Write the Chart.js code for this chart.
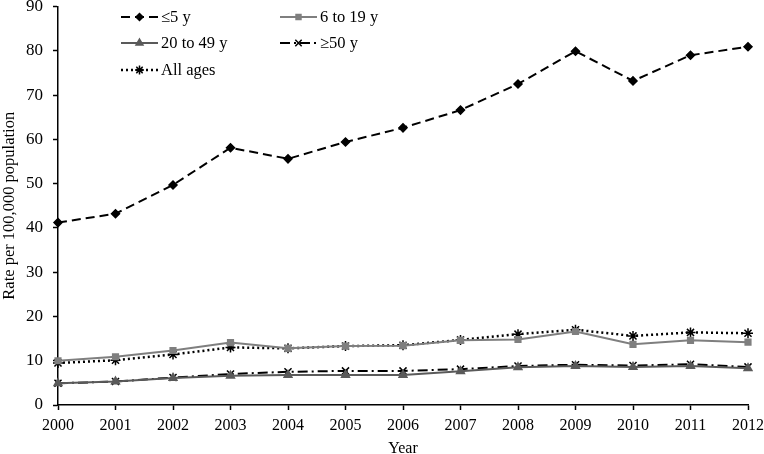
<!DOCTYPE html>
<html>
<head>
<meta charset="utf-8">
<script src="https://cdn.jsdelivr.net/npm/chart.js@4/dist/chart.umd.min.js"></script>
<style>
  html, body { margin: 0; padding: 0; background: #fff; }
  #wrap { width: 764px; height: 454px; position: relative; }
</style>
</head>
<body>
<div id="wrap"><canvas id="grafica"></canvas></div>
<script>
const years = ["2000", "2001", "2002", "2003", "2004", "2005", "2006", "2007", "2008", "2009", "2010", "2011", "2012"];
const under5 = [41.2, 43.2, 49.7, 58.1, 55.6, 59.4, 62.6, 66.6, 72.5, 79.9, 73.2, 79.0, 80.9];
const age6to19 = [10.0, 10.9, 12.3, 14.1, 12.8, 13.3, 13.4, 14.6, 14.8, 16.6, 13.7, 14.6, 14.2];
const age20to49 = [4.9, 5.3, 6.1, 6.6, 6.8, 6.8, 6.8, 7.6, 8.5, 8.8, 8.6, 8.8, 8.3];
const age50plus = [4.9, 5.3, 6.2, 7.0, 7.5, 7.7, 7.7, 8.1, 8.8, 9.1, 8.9, 9.2, 8.6];
const allAges = [9.5, 10.1, 11.4, 13.0, 12.8, 13.3, 13.5, 14.7, 16.0, 17.0, 15.6, 16.4, 16.2];

const FONT = "'Liberation Serif', 'Times New Roman', serif";

// Leyenda en dos columnas dentro del área del gráfico
const legendSlots = [
  { x: 121, y: 17 },
  { x: 280, y: 17 },
  { x: 121, y: 43 },
  { x: 280, y: 43 },
  { x: 121, y: 70 },
];

const gridLegend = {
  id: "gridLegend",
  afterDraw(chart) {
    const ctx = chart.ctx;
    chart.data.datasets.forEach((ds, i) => {
      const slot = legendSlots[i];
      if (!slot) return;
      const len = 37;
      ctx.save();
      ctx.strokeStyle = ds.borderColor;
      ctx.lineWidth = ds.borderWidth;
      ctx.setLineDash(ds.borderDash || []);
      ctx.beginPath();
      ctx.moveTo(slot.x, slot.y);
      ctx.lineTo(slot.x + len, slot.y);
      ctx.stroke();
      ctx.setLineDash([]);
      ctx.fillStyle = ds.pointBackgroundColor;
      ctx.strokeStyle = ds.pointBorderColor;
      ctx.lineWidth = 1.5;
      Chart.helpers.drawPoint(ctx, {
        pointStyle: ds.pointStyle,
        radius: ds.pointRadius - 0.5,
        rotation: 0,
        borderWidth: 1.5,
      }, slot.x + len / 2, slot.y);
      ctx.font = `16.5px ${FONT}`;
      ctx.textBaseline = "middle";
      ctx.fillStyle = "#000";
      ctx.fillText(ds.label, slot.x + len + 3, slot.y + 1);
      ctx.restore();
    });
  },
};

function serie(label, data, color, dash, style, radius, width) {
  return {
    label,
    data,
    borderColor: color,
    backgroundColor: color,
    pointBackgroundColor: color,
    pointBorderColor: color,
    borderWidth: width,
    borderDash: dash,
    pointStyle: style,
    pointRadius: radius,
    pointBorderWidth: 1.5,
    tension: 0,
    fill: false,
  };
}

const datasets = [
  serie("≤5 y", under5, "#000000", [9, 5], "rectRot", 4, 2),
  serie("6 to 19 y", age6to19, "#7f7f7f", [], "rect", 4, 2),
  serie("20 to 49 y", age20to49, "#5a5a5a", [], "triangle", 4.5, 2),
  serie("≥50 y", age50plus, "#000000", [10, 4, 2, 4], "crossRot", 5, 2),
  serie("All ages", allAges, "#000000", [2, 3], "star", 5, 2.5),
];

new Chart(document.getElementById("grafica"), {
  type: "line",
  data: { labels: years, datasets },
  plugins: [gridLegend],
  options: {
    responsive: true,
    maintainAspectRatio: false,
    animation: false,
    layout: { padding: { top: 5, right: 16, left: 0, bottom: 0 } },
    plugins: {
      legend: { display: false },
      tooltip: { enabled: false },
    },
    scales: {
      x: {
        type: "category",
        offset: false,
        border: { color: "#000", width: 1.5 },
        grid: { drawOnChartArea: false, tickLength: 5, tickColor: "#000", tickWidth: 1.5 },
        ticks: { color: "#000", font: { family: FONT, size: 16 }, padding: 6, maxRotation: 0, autoSkip: false },
        title: { display: true, text: "Year", color: "#000", font: { family: FONT, size: 16 }, padding: { top: 0, bottom: -4 } },
        afterFit(scale) {
          scale.height = 49;
          scale.paddingLeft = 0;
          scale.paddingRight = 0;
        },
      },
      y: {
        min: 0,
        max: 90,
        border: { color: "#000", width: 1.5 },
        grid: { drawOnChartArea: false, tickLength: 5, tickColor: "#000", tickWidth: 1.5 },
        ticks: { stepSize: 10, color: "#000", font: { family: FONT, size: 17 }, padding: 10 },
        title: { display: true, text: "Rate per 100,000 population", color: "#000", font: { family: FONT, size: 16.5 }, padding: { top: 0, bottom: 4 } },
        afterFit(scale) {
          scale.width = 58;
          scale.paddingTop = 0;
          scale.paddingBottom = 0;
        },
      },
    },
  },
});
</script>
</body>
</html>
